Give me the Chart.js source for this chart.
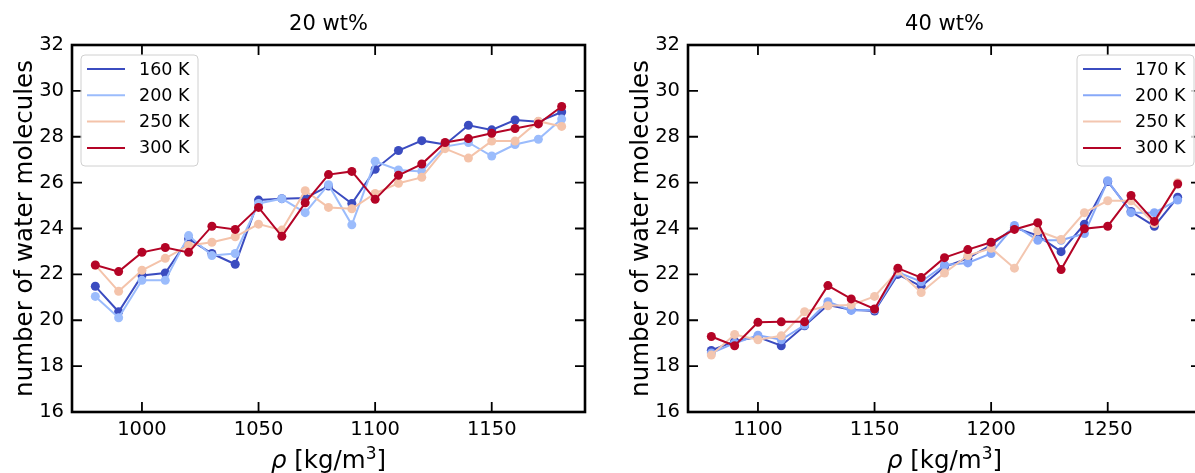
<!DOCTYPE html>
<html>
<head>
<meta charset="utf-8">
<script src="https://cdn.jsdelivr.net/npm/chart.js@4.4.0/dist/chart.umd.min.js"></script>
<style>
  html, body { margin: 0; padding: 0; background: #fff; overflow: hidden; width: 1195px; height: 473px; }
  .panel { position: absolute; top: 0; width: 600px; height: 473px; }
  #p20 { left: 0; }
  #p40 { left: 616px; }
</style>
</head>
<body>
<div class="panel" id="p20"><canvas id="c20" width="600" height="473"></canvas></div>
<div class="panel" id="p40"><canvas id="c40" width="600" height="473"></canvas></div>
<script>
// 20 wt% panel
const rho20 = [980, 990, 1000, 1010, 1020, 1030, 1040, 1050, 1060, 1070, 1080, 1090, 1100, 1110, 1120, 1130, 1140, 1150, 1160, 1170, 1180];
const n160_20 = [21.48, 20.37, 21.95, 22.06, 23.55, 22.91, 22.44, 25.24, 25.30, 25.33, 25.85, 25.09, 26.58, 27.40, 27.83, 27.66, 28.50, 28.30, 28.73, 28.65, 29.08];
const n200_20 = [21.04, 20.11, 21.74, 21.74, 23.69, 22.82, 22.91, 25.09, 25.30, 24.69, 25.91, 24.16, 26.93, 26.55, 26.49, 27.57, 27.75, 27.16, 27.66, 27.89, 28.77];
const n250_20 = [22.40, 21.26, 22.18, 22.70, 23.26, 23.40, 23.64, 24.19, 23.93, 25.65, 24.92, 24.86, 25.53, 25.97, 26.23, 27.48, 27.07, 27.81, 27.81, 28.68, 28.45];
const n300_20 = [22.41, 22.12, 22.96, 23.17, 22.96, 24.10, 23.96, 24.92, 23.66, 25.12, 26.35, 26.49, 25.27, 26.32, 26.81, 27.75, 27.92, 28.15, 28.36, 28.56, 29.32];
const labels20 = ['160 K', '200 K', '250 K', '300 K'];
const colors20 = ['#3b4cc0', '#9bbcfc', '#f4c3aa', '#b40426'];
const xTicks20 = [1000, 1050, 1100, 1150];

// 40 wt% panel
const rho40 = [1080, 1090, 1100, 1110, 1120, 1130, 1140, 1150, 1160, 1170, 1180, 1190, 1200, 1210, 1220, 1230, 1240, 1250, 1260, 1270, 1280];
const n170_40 = [18.68, 19.09, 19.27, 18.89, 19.76, 20.66, 20.46, 20.40, 22.00, 21.48, 22.33, 22.70, 23.29, 24.04, 23.69, 22.99, 24.19, 26.05, 24.74, 24.10, 25.36];
const n200_40 = [18.57, 19.00, 19.35, 19.15, 19.79, 20.81, 20.43, 20.46, 22.09, 21.68, 22.41, 22.50, 22.91, 24.13, 23.49, 23.49, 23.78, 26.08, 24.69, 24.69, 25.24];
const n250_40 = [18.48, 19.38, 19.15, 19.32, 20.37, 20.63, 20.66, 21.04, 22.15, 21.21, 22.06, 22.82, 23.14, 22.27, 23.90, 23.52, 24.69, 25.21, 25.21, 24.22, 26.00];
const n300_40 = [19.29, 18.89, 19.91, 19.93, 19.93, 21.51, 20.93, 20.49, 22.27, 21.86, 22.73, 23.08, 23.40, 23.96, 24.25, 22.21, 23.99, 24.10, 25.44, 24.31, 25.94];
const labels40 = ['170 K', '200 K', '250 K', '300 K'];
const colors40 = ['#3b4cc0', '#87a9f9', '#f3c6b0', '#b40426'];
const xTicks40 = [1100, 1150, 1200, 1250];

const yTicks = [16, 18, 20, 22, 24, 26, 28, 30, 32];

const FONT = '"DejaVu Sans", sans-serif';
Chart.defaults.font.family = FONT;
Chart.defaults.color = '#000';

// x label pieces: italic rho, unit, superscript 3
const xLabelParts = [
  { text: 'ρ', font: 'italic 24.5px ' + FONT, dy: 0 },
  { text: ' [kg/m', font: '24.5px ' + FONT, dy: 0 },
  { text: '3', font: '17px ' + FONT, dy: -9 },
  { text: ']', font: '24.5px ' + FONT, dy: 0 }
];

// matplotlib-like frame, inward ticks, title, x label and boxed legend
const axesDecor = {
  id: 'axesDecor',
  afterDraw(chart, args, opts) {
    const { ctx, chartArea: a, scales: { x, y } } = chart;
    ctx.save();
    ctx.strokeStyle = '#000';
    ctx.lineWidth = 1.8;
    ctx.beginPath();
    x.ticks.forEach(t => {
      const px = x.getPixelForValue(t.value);
      ctx.moveTo(px, a.bottom); ctx.lineTo(px, a.bottom - 10);
      ctx.moveTo(px, a.top); ctx.lineTo(px, a.top + 10);
    });
    y.ticks.forEach(t => {
      const py = y.getPixelForValue(t.value);
      ctx.moveTo(a.left, py); ctx.lineTo(a.left + 10, py);
      ctx.moveTo(a.right, py); ctx.lineTo(a.right - 10, py);
    });
    ctx.stroke();
    ctx.lineWidth = 2.6;
    ctx.strokeRect(a.left, a.top, a.right - a.left, a.bottom - a.top);

    ctx.fillStyle = '#000';
    ctx.font = '21px ' + FONT;
    ctx.textAlign = 'center';
    ctx.textBaseline = 'alphabetic';
    ctx.fillText(opts.title, (a.left + a.right) / 2, 30);

    // x axis label
    ctx.textAlign = 'left';
    let total = 0;
    xLabelParts.forEach(p => { ctx.font = p.font; total += ctx.measureText(p.text).width; });
    let cx = (a.left + a.right) / 2 - total / 2;
    xLabelParts.forEach(p => {
      ctx.font = p.font;
      ctx.fillText(p.text, cx, 468 + p.dy);
      cx += ctx.measureText(p.text).width;
    });

    // legend box
    const w = 117, h = 111;
    const bx = opts.side === 'left' ? a.left + 9 : a.right - 7 - w;
    const by = a.top + 10;
    const r = 4;
    ctx.beginPath();
    ctx.moveTo(bx + r, by);
    ctx.arcTo(bx + w, by, bx + w, by + h, r);
    ctx.arcTo(bx + w, by + h, bx, by + h, r);
    ctx.arcTo(bx, by + h, bx, by, r);
    ctx.arcTo(bx, by, bx + w, by, r);
    ctx.closePath();
    ctx.fillStyle = 'rgba(255,255,255,0.8)';
    ctx.fill();
    ctx.strokeStyle = '#d0d0d0';
    ctx.lineWidth = 1;
    ctx.stroke();

    ctx.font = '17.5px ' + FONT;
    ctx.textBaseline = 'middle';
    chart.data.datasets.forEach((ds, i) => {
      const ly = by + 14 + i * 26.3;
      ctx.strokeStyle = ds.borderColor;
      ctx.lineWidth = 2;
      ctx.beginPath();
      ctx.moveTo(bx + 6, ly);
      ctx.lineTo(bx + 44, ly);
      ctx.stroke();
      ctx.fillStyle = '#000';
      ctx.fillText(ds.label, bx + 58, ly + 1);
    });
    ctx.restore();
  }
};

function makeChart(id, rho, series, labels, colors, xMin, xMax, xTicks, title, side) {
  return new Chart(document.getElementById(id), {
    type: 'line',
    data: {
      datasets: series.map((vals, i) => ({
        label: labels[i],
        data: rho.map((r, k) => ({ x: r, y: vals[k] })),
        borderColor: colors[i],
        backgroundColor: colors[i],
        borderWidth: 2,
        pointRadius: 4.5,
        pointHoverRadius: 4.5,
        pointBorderWidth: 0,
        tension: 0,
        fill: false,
        order: series.length - i
      }))
    },
    options: {
      responsive: false,
      animation: false,
      events: [],
      layout: { padding: { top: 45, right: 15, left: 0, bottom: 0 } },
      scales: {
        x: {
          type: 'linear',
          min: xMin,
          max: xMax,
          afterBuildTicks: s => { s.ticks = xTicks.map(v => ({ value: v })); },
          afterFit: s => { s.height = 61; },
          grid: { display: false, drawTicks: false },
          border: { display: false },
          ticks: { font: { size: 19.5 }, color: '#000', padding: 6, maxRotation: 0, autoSkip: false, callback: v => String(v) },
          title: { display: false }
        },
        y: {
          min: 16,
          max: 32,
          afterBuildTicks: s => { s.ticks = yTicks.map(v => ({ value: v })); },
          afterFit: s => { s.width = 72; },
          grid: { display: false, drawTicks: false },
          border: { display: false },
          ticks: { font: { size: 19.5 }, color: '#000', padding: 8, autoSkip: false, callback: v => String(v) },
          title: { display: true, text: 'number of water molecules', font: { size: 24.5 }, color: '#000', padding: { top: 11, bottom: 0 } }
        }
      },
      plugins: {
        legend: { display: false },
        title: { display: false },
        tooltip: { enabled: false },
        axesDecor: { title: title, side: side }
      }
    },
    plugins: [axesDecor]
  });
}

makeChart('c20', rho20, [n160_20, n200_20, n250_20, n300_20], labels20, colors20, 970, 1190, xTicks20, '20 wt%', 'left');
makeChart('c40', rho40, [n170_40, n200_40, n250_40, n300_40], labels40, colors40, 1070, 1290, xTicks40, '40 wt%', 'right');
</script>
</body>
</html>
